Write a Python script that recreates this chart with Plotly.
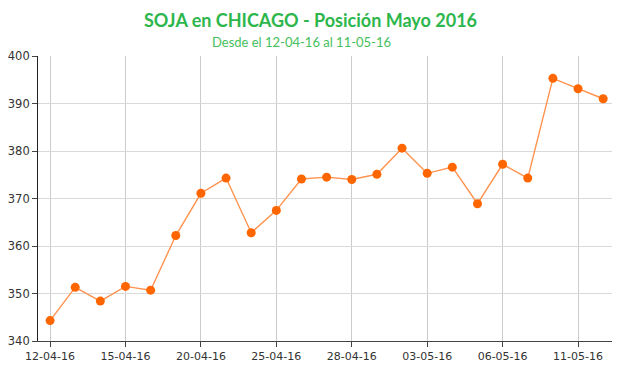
import plotly.graph_objects as go

dates = ["12-04-16", "13-04-16", "14-04-16", "15-04-16", "18-04-16", "19-04-16",
         "20-04-16", "21-04-16", "22-04-16", "25-04-16", "26-04-16", "27-04-16",
         "28-04-16", "29-04-16", "02-05-16", "03-05-16", "04-05-16", "05-05-16",
         "06-05-16", "09-05-16", "10-05-16", "11-05-16", "12-05-16"]
precios = [344.3, 351.3, 348.4, 351.5, 350.7, 362.2, 371.1, 374.3, 362.8, 367.5,
           374.1, 374.5, 374.0, 375.1, 380.6, 375.3, 376.6, 368.9, 377.2, 374.3,
           395.3, 393.1, 391.0]
tick_labels = ["12-04-16", "15-04-16", "20-04-16", "25-04-16", "28-04-16",
               "03-05-16", "06-05-16", "11-05-16"]
y_ticks = [340, 350, 360, 370, 380, 390, 400]

# page offset of the figure inside the browser body
OFF = 8
W, H = 620, 375
L = 38 - OFF
T = 56 - OFF
R = W - (615 - OFF)
B = H - (341 - OFF)

fig = go.Figure()
fig.add_trace(go.Scatter(
    x=dates, y=precios, mode="lines+markers",
    line=dict(color="#FF9350", width=1.4),
    marker=dict(color="#FF6600", size=9),
    hoverinfo="x+y", showlegend=False, cliponaxis=False,
))

pw = W - L - R
ph = H - T - B

def px_to_paper(x, y):
    x -= OFF
    y -= OFF
    return (x - L) / pw, 1 + (T - y) / ph

tx, ty = px_to_paper(310, 20)
sx, sy = px_to_paper(301, 42)

fig.update_layout(
    width=W, height=H,
    margin=dict(l=L, r=R, t=T, b=B, autoexpand=False),
    paper_bgcolor="white", plot_bgcolor="white",
    font=dict(family="DejaVu Sans", size=11, color="#333333"),
    annotations=[
        dict(text="<b>SOJA en CHICAGO - Posición Mayo 2016</b>", x=tx, y=ty,
             xref="paper", yref="paper", showarrow=False,
             xanchor="center", yanchor="middle",
             font=dict(family="Lato", size=18, color="#2DB64C")),
        dict(text="Desde el 12-04-16 al 11-05-16", x=sx, y=sy,
             xref="paper", yref="paper", showarrow=False,
             xanchor="center", yanchor="middle",
             font=dict(family="Lato", size=13, color="#45C05C")),
    ],
)

fig.update_xaxes(
    type="category", range=[-0.48, 22.47], automargin=False,
    tickmode="array", tickvals=tick_labels, ticktext=tick_labels,
    showgrid=True, gridcolor="#CCCCCC", gridwidth=1,
    showline=True, linecolor="#444444", linewidth=1,
    ticks="outside", ticklen=5, tickcolor="#444444",
    tickfont=dict(size=11, color="#333333"),
    zeroline=False,
)
fig.update_yaxes(
    range=[340, 400], tickmode="array", tickvals=y_ticks, automargin=False,
    showgrid=True, gridcolor="#D9D9D9", gridwidth=1,
    showline=True, linecolor="#222222", linewidth=1,
    ticks="outside", ticklen=5, tickcolor="#444444",
    tickfont=dict(size=11.5, color="#333333"),
    zeroline=False,
)

fig.write_html("out.html")
